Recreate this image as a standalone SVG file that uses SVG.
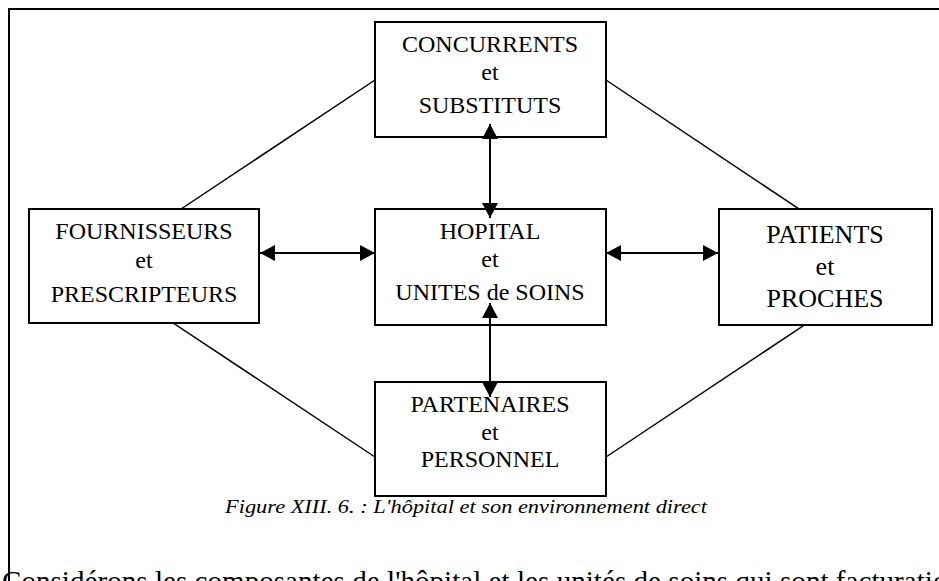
<svg xmlns="http://www.w3.org/2000/svg" width="939" height="581" viewBox="0 0 939 581">
  <style>
    .box { fill: #fff; stroke: #000; stroke-width: 2; }
    .lbl { font-family: "Liberation Serif", "Times New Roman", serif; font-size: 24px; fill: #000; text-anchor: middle; }
    .big { font-size: 26px; }
    .line { stroke: #000; stroke-width: 1.5; fill: none; }
    .arrow { stroke: #000; stroke-width: 2; fill: none; marker-start: url(#head); marker-end: url(#head); }
    .cap { font-family: "Liberation Serif", "Times New Roman", serif; font-style: italic; font-size: 19px; fill: #000; text-anchor: middle; }
    .body { font-family: "Liberation Serif", "Times New Roman", serif; font-size: 29px; fill: #000; }
  </style>
  <defs>
    <marker id="head" viewBox="0 0 15 16" refX="15" refY="8" markerWidth="15" markerHeight="16" markerUnits="userSpaceOnUse" orient="auto-start-reverse">
      <path d="M0 0 L15 8 L0 16 Z" fill="#000"/>
    </marker>
  </defs>

  <!-- page frame -->
  <path d="M9 581 V9 H945" fill="none" stroke="#000" stroke-width="2"/>

  <!-- links between the surrounding boxes (drawn first, text on top) -->
  <g id="connectors">
    <line class="line" x1="375" y1="80" x2="145" y2="233"/>
    <line class="line" x1="606" y1="80" x2="835" y2="233"/>
    <line class="line" x1="143" y1="303" x2="375" y2="457"/>
    <line class="line" x1="833" y1="306" x2="606" y2="457"/>
  </g>

  <g id="concurrents">
    <rect class="box" x="375" y="22" width="231" height="115"/>
    <text class="lbl" x="490" y="52">CONCURRENTS</text>
    <text class="lbl" x="490" y="80">et</text>
    <text class="lbl" x="490" y="113">SUBSTITUTS</text>
  </g>

  <g id="fournisseurs">
    <rect class="box" x="29" y="209" width="230" height="114"/>
    <text class="lbl" x="144" y="239">FOURNISSEURS</text>
    <text class="lbl" x="144" y="268">et</text>
    <text class="lbl" x="144" y="302">PRESCRIPTEURS</text>
  </g>

  <g id="hopital">
    <rect class="box" x="375" y="209" width="231" height="116"/>
    <text class="lbl" x="490" y="239">HOPITAL</text>
    <text class="lbl" x="490" y="267">et</text>
    <text class="lbl" x="490" y="300">UNITES de SOINS</text>
  </g>

  <g id="patients">
    <rect class="box" x="719" y="209" width="213" height="116"/>
    <text class="lbl big" x="825" y="243">PATIENTS</text>
    <text class="lbl big" x="825" y="275">et</text>
    <text class="lbl big" x="825" y="307">PROCHES</text>
  </g>

  <g id="partenaires">
    <rect class="box" x="375" y="382" width="231" height="114"/>
    <text class="lbl" x="490" y="412">PARTENAIRES</text>
    <text class="lbl" x="490" y="440">et</text>
    <text class="lbl" x="490" y="467">PERSONNEL</text>
  </g>

  <!-- two-way exchanges with the hospital -->
  <g id="arrows">
    <line class="arrow" x1="490" y1="124" x2="490" y2="218"/>
    <line class="arrow" x1="490" y1="303" x2="490" y2="397"/>
    <line class="arrow" x1="260" y1="253" x2="375" y2="253"/>
    <line class="arrow" x1="606" y1="253" x2="718" y2="253"/>
  </g>

  <text class="cap" x="466" y="513" textLength="482" lengthAdjust="spacingAndGlyphs">Figure XIII. 6. : L'hôpital et son environnement direct</text>

  <!-- first line of the following paragraph, running past the page edge -->
  <text class="body" x="2" y="591" textLength="960" lengthAdjust="spacing">Considérons les composantes de l'hôpital et les unités de soins qui sont facturation</text>
</svg>
